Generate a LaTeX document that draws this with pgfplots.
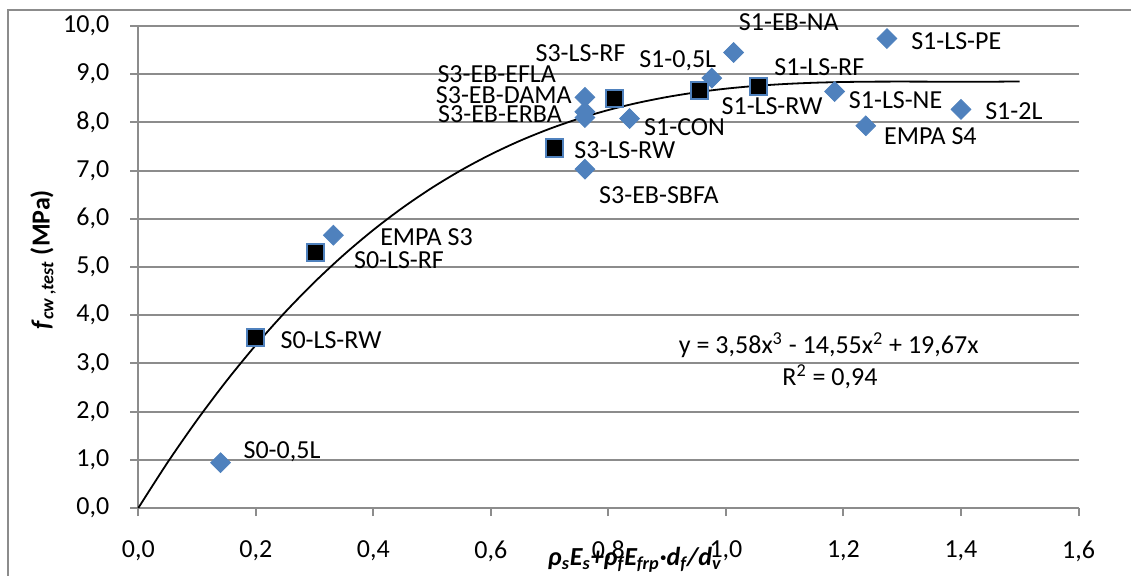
\documentclass[border=0pt]{standalone}
\usepackage{fontspec}
\setmainfont{Carlito}
\usepackage{pgfplots}
\pgfplotsset{compat=1.18}
\definecolor{mblue}{HTML}{4F81BD}
\definecolor{gridg}{HTML}{8C8C8C}
\begin{document}
\fontsize{13}{15}\selectfont
\begin{tikzpicture}
\useasboundingbox (-69.15pt,-33.5pt) rectangle (496.35pt,254pt);
\draw[gridg, line width=1pt] (-64.9pt,-40pt) -- (-64.9pt,249pt) -- (500pt,249pt);
\begin{axis}[
  at={(0,0)}, anchor=south west,
  scale only axis, width=470.1pt, height=241pt,
  xmin=0, xmax=1.6, ymin=0, ymax=10,
  xtick={0,0.2,...,1.6}, ytick={0,1,...,10},
  axis x line*=bottom, axis y line*=left,
  axis line style={gridg, line width=1pt, -},
  ymajorgrids, grid style={gridg, line width=1pt},
  tick style={gridg, line width=1pt},
  tick align=outside, major tick length=4pt,
  /pgf/number format/.cd, fixed, fixed zerofill, precision=1, use comma, assume math mode=true,
  /pgfplots/.cd,
  ticklabel style={font=\fontsize{13}{15}\selectfont, text=black},
  yticklabel style={xshift=-6pt},
  xticklabel style={yshift=-8pt},
  clip=false,
]
\addplot[only marks, mark=square*, mark size=3.5pt, mark options={rotate=45, fill=mblue, draw=mblue}] coordinates {
 (0.140,0.94) (0.332,5.66) (0.760,8.52) (0.760,8.22) (0.760,8.10) (0.836,8.08)
 (0.760,7.03) (0.976,8.92) (1.013,9.45) (1.274,9.74) (1.185,8.64) (1.238,7.93) (1.400,8.27)
};
\addplot[only marks, mark=square*, mark size=4.3pt, mark options={fill=black, draw=mblue, line width=1pt}] coordinates {
 (0.301,5.30) (0.200,3.54) (0.810,8.50) (0.708,7.47) (0.955,8.67) (1.056,8.75)
};
\addplot[black, line width=0.9pt, smooth] coordinates {
 (0,0) (0.05,0.9476) (0.1,1.8251) (0.15,2.6352) (0.2,3.3806) (0.25,4.0641)
 (0.3,4.6882) (0.35,5.2556) (0.4,5.7691) (0.45,6.2314) (0.5,6.645) (0.55,7.0127)
 (0.6,7.3373) (0.65,7.6213) (0.7,7.8674) (0.75,8.0784) (0.8,8.257) (0.85,8.4057)
 (0.9,8.5273) (0.95,8.6245) (1.0,8.70) (1.05,8.7564) (1.1,8.7965) (1.15,8.8229)
 (1.2,8.8382) (1.25,8.8453) (1.3,8.8468) (1.35,8.8453) (1.4,8.8435) (1.45,8.8442) (1.5,8.85)
};
\node at (axis cs:1.107,10.08) {S1-EB-NA};
\node at (axis cs:1.392,9.69) {S1-LS-PE};
\node at (axis cs:0.7526,9.43) {S3-LS-RF};
\node at (axis cs:0.918,9.29) {S1-0,5L};
\node at (axis cs:0.610,9.00) {S3-EB-EFLA};
\node at (axis cs:0.622,8.57) {S3-EB-DAMA};
\node at (axis cs:0.6156,8.17) {S3-EB-ERBA};
\node at (axis cs:1.159,9.15) {S1-LS-RF};
\node at (axis cs:1.0785,8.34) {S1-LS-RW};
\node at (axis cs:0.9296,7.90) {S1-CON};
\node at (axis cs:0.828,7.43) {S3-LS-RW};
\node at (axis cs:0.886,6.49) {S3-EB-SBFA};
\node at (axis cs:1.2887,8.46) {S1-LS-NE};
\node at (axis cs:1.490,8.24) {S1-2L};
\node at (axis cs:1.348,7.72) {EMPA S4};
\node at (axis cs:0.4905,5.62) {EMPA S3};
\node at (axis cs:0.4437,5.15) {S0-LS-RF};
\node at (axis cs:0.328,3.49) {S0-LS-RW};
\node at (axis cs:0.2446,1.17) {S0-0,5L};
\node at (axis cs:1.175,3.38) {y = 3,58x\textsuperscript{3} - 14,55x\textsuperscript{2} + 19,67x};
\node at (axis cs:1.177,2.72) {R\textsuperscript{2} = 0,94};
\node[rotate=90] at (axis cs:-0.162,5.15) {\textbf{\textit{f}\textsubscript{\textit{cw ,test}} (MPa)}};
\node at (axis cs:0.845,-1.08) {\textbf{\textit{ρ\textsubscript{s}E\textsubscript{s}+ρ\textsubscript{f}E\textsubscript{frp}·d\textsubscript{f}/d\textsubscript{v}}}};
\end{axis}
\end{tikzpicture}
\end{document}
